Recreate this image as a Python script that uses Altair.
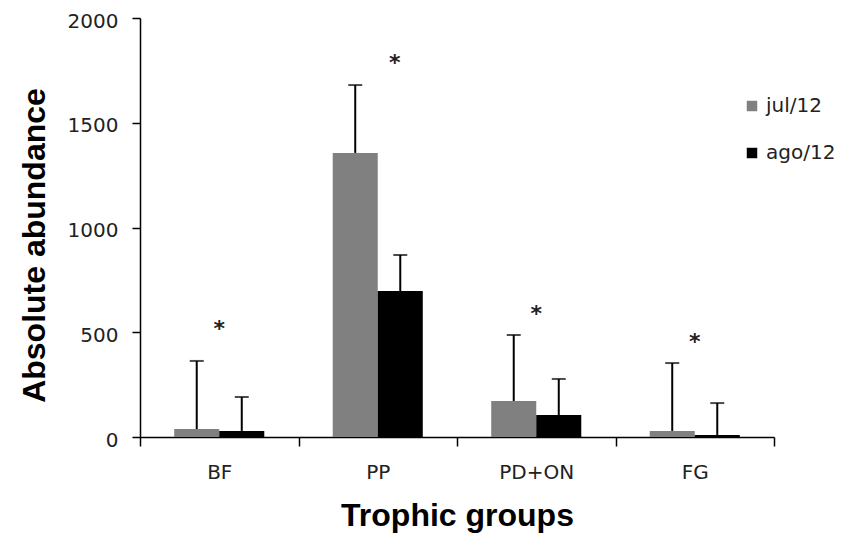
import altair as alt
import pandas as pd

groups = ["BF", "PP", "PD+ON", "FG"]
series = ["jul/12", "ago/12"]
jul_mean = [38, 1356, 172, 29]
jul_err = [363, 1680, 487, 353]
ago_mean = [29, 697, 105, 10]
ago_err = [191, 869, 277, 162]
star_y = [544, 1814, 616, 482]
y_ticks = [0, 500, 1000, 1500, 2000]

rows = []
for i, g in enumerate(groups):
    rows.append({"group": g, "series": series[0], "mean": jul_mean[i], "err": jul_err[i]})
    rows.append({"group": g, "series": series[1], "mean": ago_mean[i], "err": ago_err[i]})
df = pd.DataFrame(rows)
stars = pd.DataFrame({"group": groups, "y": star_y, "label": ["*"] * len(groups)})

x_enc = alt.X(
    "group:N",
    sort=groups,
    scale=alt.Scale(domain=groups, paddingInner=0, paddingOuter=0),
    axis=alt.Axis(
        title="Trophic groups",
        labelAngle=0,
        tickBand="extent",
        tickSize=9,
        labelPadding=16,
        titlePadding=18,
    ),
)
xoff = alt.XOffset(
    "series:N", sort=series, scale=alt.Scale(domain=series, paddingOuter=0.76, paddingInner=0)
)
y_scale = alt.Scale(domain=[0, 2000], nice=False)
y_axis = alt.Axis(
    title="Absolute abundance",
    values=y_ticks,
    format="d",
    tickSize=8,
    labelPadding=14,
    labelOffset=3,
    titlePadding=16,
    titleY=227,
    grid=False,
)

bars = alt.Chart(df).mark_bar().encode(
    x=x_enc,
    xOffset=xoff,
    y=alt.Y("mean:Q", scale=y_scale, axis=y_axis),
    color=alt.Color(
        "series:N",
        sort=series,
        scale=alt.Scale(domain=series, range=["#808080", "#000000"]),
        legend=alt.Legend(
            title=None,
            orient="none",
            legendX=602,
            legendY=78,
            symbolType="square",
            symbolSize=110,
            symbolStrokeWidth=0,
            labelFontSize=20,
            labelFont="DejaVu Sans",
            labelColor="#222222",
            rowPadding=27,
            labelOffset=4,
        ),
    ),
)

rules = alt.Chart(df).mark_rule(color="black", strokeWidth=2).encode(
    x=alt.X("group:N", sort=groups),
    xOffset=xoff,
    y=alt.Y("mean:Q", scale=y_scale),
    y2="err:Q",
)

caps = alt.Chart(df).mark_tick(color="black", thickness=2, size=14, orient="horizontal").encode(
    x=alt.X("group:N", sort=groups),
    xOffset=xoff,
    y=alt.Y("err:Q", scale=y_scale),
)

star_main = alt.Chart(stars).transform_filter(alt.datum.group != "PP").mark_text(
    fontSize=22, font="DejaVu Sans", fontWeight="bold", color="#222222", baseline="middle", dy=6
).encode(
    x=alt.X("group:N", sort=groups),
    y=alt.Y("y:Q", scale=y_scale),
    text="label:N",
)
star_pp = alt.Chart(stars).transform_filter(alt.datum.group == "PP").mark_text(
    fontSize=22, font="DejaVu Sans", fontWeight="bold", color="#222222", baseline="middle", dy=6, dx=17
).encode(
    x=alt.X("group:N", sort=groups),
    y=alt.Y("y:Q", scale=y_scale),
    text="label:N",
)

chart = (
    alt.layer(bars, rules, caps, star_main, star_pp)
    .properties(
        width=634,
        height=419,
        autosize=alt.AutoSizeParams(type="none"),
        padding={"left": 132, "top": 10, "right": 60, "bottom": 96},
    )
    .configure_view(stroke=None)
    .configure_axis(
        domainColor="black",
        domainWidth=1.5,
        tickColor="black",
        tickWidth=1.5,
        labelFont="DejaVu Sans",
        labelFontSize=20,
        labelColor="#222222",
        titleFont="Liberation Sans",
        titleFontSize=32,
        titleFontWeight="bold",
        titleColor="black",
    )
)

chart.save("out.html", embed_options={"renderer": "svg", "actions": False})
